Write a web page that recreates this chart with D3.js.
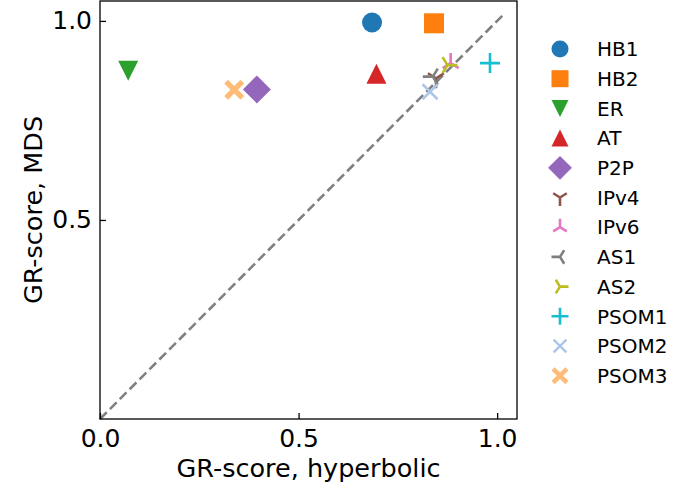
<!DOCTYPE html>
<html>
<head>
<meta charset="utf-8">
<script src="https://cdn.jsdelivr.net/npm/d3@7"></script>
<style>
  body { margin: 0; background: #fff; }
  text { font-family: "DejaVu Sans", sans-serif; fill: #000; }
</style>
</head>
<body>
<svg id="chart" width="695" height="493"></svg>
<script>
// graph names, in plot order
var names = ["HB1", "HB2", "ER", "AT", "P2P", "IPv4", "IPv6", "AS1", "AS2", "PSOM1", "PSOM2", "PSOM3"];
// GR-score with hyperbolic embedding (x) and MDS (y)
var hyperbolic = [0.685, 0.841, 0.071, 0.696, 0.395, 0.846, 0.883, 0.838, 0.875, 0.982, 0.831, 0.338];
var mds        = [0.996, 0.994, 0.875, 0.867, 0.828, 0.856, 0.894, 0.860, 0.889, 0.894, 0.822, 0.827];
var markers = ["circle", "square", "tri_v", "tri_^", "diamond", "y_down", "y_up", "y_left", "y_right", "plus", "x", "xfill"];
var colors = ["#1f77b4", "#ff7f0e", "#2ca02c", "#d62728", "#9467bd", "#8c564b", "#e377c2", "#7f7f7f", "#bcbd22", "#17becf", "#aec7e8", "#ffbb78"];
var xTicks = [0.0, 0.5, 1.0];
var yTicks = [0.5, 1.0];
var diag = [0, 1.02];

var svg = d3.select("#chart"),
    margin = {top: 1, left: 100, right: 178, bottom: 74},
    width = 695 - margin.left - margin.right,
    height = 493 - margin.top - margin.bottom,
    g = svg.append("g").attr("transform", "translate(" + margin.left + "," + margin.top + ")");

var x = d3.scaleLinear().domain([0, 1.05]).range([0, width]);
var y = d3.scaleLinear().domain([0, 1.05]).range([height, 0]);

// marker shape, centred on 0,0, r = half size in px
function markerPath(kind, r) {
  var p = d3.path();
  if (kind == "circle") return d3.symbol(d3.symbolCircle, Math.PI * r * r)();
  if (kind == "square") return d3.symbol(d3.symbolSquare, 4 * r * r)();
  if (kind == "diamond") {
    var s = r * 1.4;
    p.moveTo(0, -s); p.lineTo(s, 0); p.lineTo(0, s); p.lineTo(-s, 0); p.closePath();
    return p.toString();
  }
  if (kind == "tri_v" || kind == "tri_^") {
    var d = kind == "tri_v" ? 1 : -1;
    p.moveTo(0, d * r); p.lineTo(r, -d * r); p.lineTo(-r, -d * r); p.closePath();
    return p.toString();
  }
  if (kind.indexOf("y_") == 0) {
    // stem direction then the two arms, matplotlib tri markers
    var arms = {
      y_down:  [[0, 1], [0.8, -0.5], [-0.8, -0.5]],
      y_up:    [[0, -1], [0.8, 0.5], [-0.8, 0.5]],
      y_left:  [[-1, 0], [0.5, -0.8], [0.5, 0.8]],
      y_right: [[1, 0], [-0.5, -0.8], [-0.5, 0.8]]
    }[kind];
    arms.forEach(function(a) { p.moveTo(0, 0); p.lineTo(a[0] * r, a[1] * r); });
    return p.toString();
  }
  if (kind == "plus") {
    p.moveTo(-r, 0); p.lineTo(r, 0); p.moveTo(0, -r); p.lineTo(0, r);
    return p.toString();
  }
  if (kind == "x") {
    var k = r * 0.75;
    p.moveTo(-k, -k); p.lineTo(k, k); p.moveTo(-k, k); p.lineTo(k, -k);
    return p.toString();
  }
  if (kind == "xfill") {
    var a = r, b = r * 0.38;
    var pts = [[0, -b], [a - b, -a], [a, -a + b], [b, 0], [a, a - b], [a - b, a], [0, b], [-a + b, a], [-a, a - b], [-b, 0], [-a, -a + b], [-a + b, -a]];
    pts.forEach(function(q, i) { i ? p.lineTo(q[0], q[1]) : p.moveTo(q[0], q[1]); });
    p.closePath();
    return p.toString();
  }
}
function isLine(kind) { return kind.indexOf("y_") == 0 || kind == "plus" || kind == "x"; }

function drawMarker(sel, i, r) {
  var kind = markers[i];
  sel.append("path")
    .attr("d", markerPath(kind, r))
    .attr("fill", isLine(kind) ? "none" : colors[i])
    .attr("stroke", isLine(kind) ? colors[i] : "none")
    .attr("stroke-width", isLine(kind) ? 2.6 : 0);
}

// diagonal
g.append("line")
  .attr("x1", x(diag[0])).attr("y1", y(diag[0]))
  .attr("x2", x(diag[1])).attr("y2", y(diag[1]))
  .attr("stroke", "#808080").attr("stroke-width", 2.6)
  .attr("stroke-dasharray", "9.5,4.5");

// points
names.forEach(function(n, i) {
  var m = g.append("g").attr("transform", "translate(" + x(hyperbolic[i]) + "," + y(mds[i]) + ")");
  drawMarker(m, i, 10);
});

// frame
g.append("rect").attr("width", width).attr("height", height)
  .attr("fill", "none").attr("stroke", "#000").attr("stroke-width", 1.3);

// axes, ticks inward
var xa = g.append("g").attr("transform", "translate(0," + height + ")")
  .call(d3.axisBottom(x).tickValues(xTicks).tickFormat(d3.format(".1f")).tickSizeInner(-6).tickSizeOuter(0).tickPadding(10));
var ya = g.append("g")
  .call(d3.axisLeft(y).tickValues(yTicks).tickFormat(d3.format(".1f")).tickSizeInner(-6).tickSizeOuter(0).tickPadding(8));
[xa, ya].forEach(function(a) {
  a.select(".domain").remove();
  a.selectAll("line").attr("stroke", "#000").attr("stroke-width", 1.3);
  a.selectAll("text").attr("font-family", "DejaVu Sans").attr("font-size", 25).attr("fill", "#000");
});

svg.append("text")
  .attr("x", margin.left + width / 2).attr("y", 477)
  .attr("text-anchor", "middle").attr("font-size", 25.5)
  .text("GR-score, hyperbolic");
svg.append("text")
  .attr("transform", "translate(42," + (margin.top + height / 2) + ") rotate(-90)")
  .attr("text-anchor", "middle").attr("font-size", 25.5)
  .text("GR-score, MDS");

// legend
var legend = svg.append("g").selectAll("g")
  .data(names).enter().append("g")
  .attr("transform", function(d, i) { return "translate(560," + (49 + i * 29.7) + ")"; });
legend.each(function(d, i) { drawMarker(d3.select(this), i, 8.5); });
legend.append("text")
  .attr("x", 37).attr("dy", "0.36em")
  .attr("font-size", 20)
  .text(function(d) { return d; });
</script>
</body>
</html>
